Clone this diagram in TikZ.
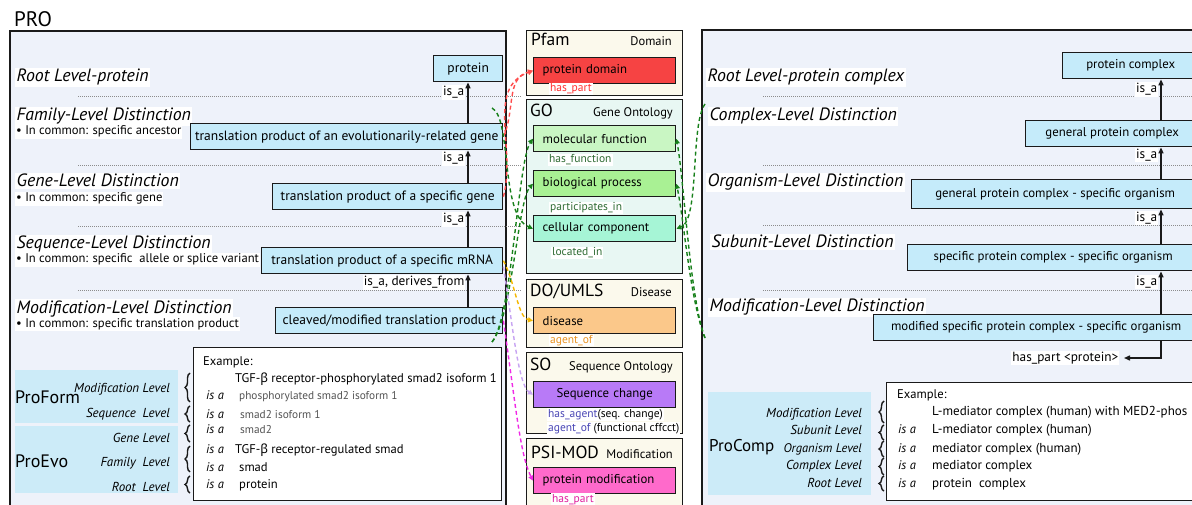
\documentclass[tikz,border=0pt]{standalone}
\usepackage{fontspec}
\setmainfont{PT Sans}
\newfontfamily\grk{Noto Sans}
\usetikzlibrary{arrows.meta,positioning,calc,decorations.pathreplacing}
\definecolor{Ink}{HTML}{1A1A1A}
\definecolor{PanelBg}{HTML}{EEF2FA}
\definecolor{TermBlue}{HTML}{C5EBFA}
\definecolor{Band}{HTML}{CCEBF8}
\definecolor{Cream}{HTML}{FBF9EC}
\definecolor{GoBg}{HTML}{E8F7F3}
\definecolor{PfamRed}{HTML}{F64343}
\definecolor{MolFun}{HTML}{C9F6C3}
\definecolor{BioProc}{HTML}{A9F194}
\definecolor{CellComp}{HTML}{A6F5D6}
\definecolor{DisOrange}{HTML}{FBC88A}
\definecolor{SeqPurple}{HTML}{B87AF7}
\definecolor{ModPink}{HTML}{FF6ACB}
\definecolor{LinkGreen}{HTML}{17801A}
\definecolor{LinkRed}{HTML}{FF4D4D}
\definecolor{LinkYellow}{HTML}{F5B800}
\definecolor{LinkLilac}{HTML}{C7A4F2}
\definecolor{LinkMagenta}{HTML}{F029E6}
\definecolor{RelGreen}{HTML}{2F6B33}
\definecolor{RelRed}{HTML}{FF3030}
\definecolor{RelOrange}{HTML}{EA9322}
\definecolor{RelBlue}{HTML}{4A47B5}
\definecolor{RelPink}{HTML}{E0209F}
\definecolor{SepGray}{HTML}{8C8C8C}
\newcommand{\fsz}[1]{\fontsize{#1}{#1}\selectfont}
\tikzset{
  panel/.style={draw=Ink,line width=1.4pt,fill=PanelBg},
  term/.style={draw=Ink,line width=1.4pt,fill=TermBlue,minimum height=26pt,inner sep=2pt,anchor=north west,font=\fsz{13.5}},
  cterm/.style={term,font=\fsz{12.8}},
  stage/.style={anchor=base west,fill=white,inner sep=1.5pt,font=\itshape\fsz{17.8}},
  common/.style={anchor=base west,fill=white,inner sep=1pt,font=\fsz{12.6}},
  rel/.style={fill=white,inner sep=1pt,font=\fsz{13.3}},
  isa/.style={-{Triangle[length=6pt,width=5pt]},line width=1.4pt,draw=Ink},
  divider/.style={draw=SepGray,densely dotted,line width=1pt},
  onto/.style={draw=Ink,line width=1.4pt,fill=Cream,anchor=north west,minimum width=156pt},
  ontotitle/.style={anchor=base west,inner sep=0pt,font=\fsz{17.5}},
  ontokind/.style={anchor=base east,inner sep=0pt,font=\fsz{12.5}},
  ontoterm/.style={draw=Ink,line width=1.4pt,anchor=north west,text width=124pt,inner xsep=9pt,inner ysep=0pt,minimum height=26pt,align=left,font=\fsz{12.8}},
  ontorel/.style={anchor=base west,fill=white,inner sep=1pt,font=\fsz{11.5}},
  link/.style={dash pattern=on 4pt off 3pt,line width=1.4pt,-{Triangle[length=5pt,width=5pt]}},
  band/.style={fill=Band},
  bandname/.style={anchor=base west,inner sep=0pt,font=\fsz{18}},
  bandlevel/.style={anchor=base east,inner sep=0pt,font=\itshape\fsz{13}},
  lvlbrace/.style={draw=Ink,line width=1.4pt,decorate,decoration={brace,amplitude=5pt}},
  example/.style={draw=Ink,line width=1.4pt,fill=white,anchor=north west},
  exrow/.style={anchor=base west,inner sep=0pt,font=\fsz{12.6}},
  exsmall/.style={anchor=base west,inner sep=0pt,font=\fsz{11.3},text=Ink!75},
  isatag/.style={anchor=base west,inner sep=0pt,font=\itshape\fsz{12.5}}
}

\begin{document}
\begin{tikzpicture}[x=1pt,y=-1pt]
  \useasboundingbox (0,0) rectangle (1192,505);
  \clip (0,0) rectangle (1192,505);
  \fill[white] (0,0) rectangle (1192,505);

  \node[anchor=base west,inner sep=0pt,font=\fsz{21}] (protitle) at (14,27) {PRO};
  \draw[panel] (10,31) rectangle (506,530);
  \foreach \y in {97,166,227,291} \draw[divider] (78,\y) -- (521,\y);
  \coordinate (lspine) at (468,0);

  \node[stage] (lroot) at (15,82) {Root Level-protein};
  \node[stage] (lfam) at (15,121) {Family-Level Distinction};
  \node[common] (cfam) at (15,135) {\textbullet\ In common: specific ancestor};
  \node[stage] (lgene) at (15,187) {Gene-Level Distinction};
  \node[common] (cgene) at (15,202) {\textbullet\ In common: specific gene};
  \node[stage] (lseq) at (15,249) {Sequence-Level Distinction};
  \node[common] (cseq) at (15,263) {\textbullet\ In common: specific\ \ allele or splice variant};
  \node[stage] (lmod) at (15,313) {Modification-Level Distinction};
  \node[common] (cmod) at (15,327) {\textbullet\ In common: specific translation product};

  \node[term,minimum width=69pt] (prot) at (433,55) {protein};
  \node[term,minimum width=312pt] (fam) at (190,123) {translation product of an evolutionarily-related gene};
  \node[term,minimum width=230pt] (gene) at (272,183) {translation product of a specific gene};
  \node[term,minimum width=241pt] (mrna) at (261,247) {translation product of a specific mRNA};
  \node[term,minimum width=227pt] (cleav) at (275,307) {cleaved/modified translation product};
  \draw[isa] (fam.north -| lspine) -- (prot.south -| lspine) node[rel,pos=0.75,anchor=east,xshift=-2pt] {is\_a};
  \draw[isa] (gene.north -| lspine) -- (fam.south -| lspine) node[rel,pos=0.75,anchor=east,xshift=-2pt] {is\_a};
  \draw[isa] (mrna.north -| lspine) -- (gene.south -| lspine) node[rel,pos=0.75,anchor=east,xshift=-2pt] {is\_a};
  \draw[isa] (cleav.north -| lspine) -- (mrna.south -| lspine) node[rel,pos=0.75,anchor=east,xshift=-2pt] {is\_a, derives\_from};

  \fill[band] (15,370) rectangle (178,423);
  \fill[band] (15,426) rectangle (178,493);
  \node[bandname] (proform) at (15,403) {ProForm};
  \node[bandname] (proevo) at (15,467) {ProEvo};
  \node[bandlevel] (bmod) at (170,392) {Modification Level};
  \node[bandlevel] (bseq) at (170,417) {Sequence\ \ Level};
  \node[bandlevel] (bgene) at (170,442) {Gene Level};
  \node[bandlevel] (bfam) at (170,466) {Family\ \ Level};
  \node[bandlevel] (broot) at (170,491) {Root\ \ Level};
  \draw[lvlbrace] (190,402) -- (190,373);
  \draw[lvlbrace] (190,422) -- (190,406);
  \draw[lvlbrace] (190,442) -- (190,425);
  \draw[lvlbrace] (190,472) -- (190,446);
  \draw[lvlbrace] (190,493) -- (190,476);

  \node[example,minimum width=308pt,minimum height=153pt] (exleft) at (193,347) {};
  \node[exrow] (exl0) at (203,365) {Example:};
  \node[exrow] (exl1) at (235,382) {TGF-{\grk β} receptor-phosphorylated smad2 isoform 1};
  \node[exsmall] (exl2) at (239,399) {phosphorylated smad2 isoform 1};
  \node[exsmall] (exl3) at (240,418) {smad2 isoform 1};
  \node[exsmall] (exl4) at (240,433) {smad2};
  \node[exrow] (exl5) at (235,453) {TGF-{\grk β} receptor-regulated smad};
  \node[exrow] (exl6) at (239,471) {smad};
  \node[exrow] (exl7) at (239,488) {protein};
  \foreach \y in {399,418,433,453,471,488} \node[isatag] at (206,\y) {is a};

  \node[onto,minimum height=65pt] (pfambox) at (526,30) {};
  \node[ontotitle] (pfamt) at (531,46) {Pfam};
  \node[ontokind] (pfamk) at (672,46) {Domain};
  \node[ontoterm,fill=PfamRed] (pdom) at (533,57) {protein domain};
  \node[ontorel,text=RelRed] (pdomr) at (549,92) {has\_part};

  \node[onto,fill=GoBg,minimum height=174pt] (gobox) at (526,99) {};
  \node[ontotitle] (got) at (530,117) {GO};
  \node[ontokind] (gok) at (673,117) {Gene Ontology};
  \node[ontoterm,fill=MolFun] (mf) at (533,125) {molecular function};
  \node[ontorel,text=RelGreen] (mfr) at (548,163) {has\_function};
  \node[ontoterm,fill=BioProc] (bp) at (533,170) {biological process};
  \node[ontorel,text=RelGreen] (bpr) at (549,211) {participates\_in};
  \node[ontoterm,fill=CellComp] (cc) at (533,215) {cellular component};
  \node[ontorel,text=RelGreen] (ccr) at (551,256) {located\_in};

  \node[onto,minimum height=68pt] (dobox) at (526,279) {};
  \node[ontotitle] (dot) at (530,297) {DO/UMLS};
  \node[ontokind] (dok) at (672,297) {Disease};
  \node[ontoterm,fill=DisOrange] (dis) at (533,307) {disease};
  \node[ontorel,text=RelOrange] (disr) at (549,343) {agent\_of};

  \node[onto,minimum height=81pt] (sobox) at (526,352) {};
  \node[ontotitle] (sot) at (530,370) {SO};
  \node[ontokind] (sok) at (673,370) {Sequence Ontology};
  \node[ontoterm,fill=SeqPurple,align=center] (seq) at (533,381) {Sequence change};
  \node[ontorel] (seqr1) at (547,417) {\textcolor{RelBlue}{has\_agent}(seq. change)};
  \node[ontorel] (seqr2) at (547,431) {\textcolor{RelBlue}{agent\_of} (functional cffcct)};

  \node[onto,minimum height=80pt] (psibox) at (526,438) {};
  \node[ontotitle] (psit) at (531,458) {PSI-MOD};
  \node[ontokind] (psik) at (673,458) {Modification};
  \node[ontoterm,fill=ModPink] (pmod) at (533,467) {protein modification};
  \node[ontorel,text=RelPink] (pmodr) at (551,502) {has\_part};

  \draw[panel] (702,30) rectangle (1215,530);
  \foreach \y in {97,166,226,291} \draw[divider] (763,\y) -- (1192,\y);
  \coordinate (rspine) at (1161,0);

  \node[stage] (rroot) at (706,82) {Root Level-protein complex};
  \node[stage] (rcpx) at (708,121) {Complex-Level Distinction};
  \node[stage] (rorg) at (706,187) {Organism-Level Distinction};
  \node[stage] (rsub) at (710,248) {Subunit-Level Distinction};
  \node[stage] (rmod) at (708,312) {Modification-Level Distinction};

  \node[cterm,minimum width=136pt] (pc) at (1062,52) {protein complex};
  \node[cterm,minimum width=173pt] (gpc) at (1025,120) {general protein complex};
  \node[cterm,minimum width=287pt,minimum height=29pt] (gpco) at (911,179) {general protein complex - specific organism};
  \node[cterm,minimum width=291pt] (spco) at (907,244) {specific protein complex - specific organism};
  \node[cterm,minimum width=325pt] (mspco) at (873,314) {modified specific protein complex - specific organism};
  \draw[isa] (gpc.north -| rspine) -- (pc.south -| rspine) node[rel,pos=0.75,anchor=east,xshift=-2pt] {is\_a};
  \draw[isa] (gpco.north -| rspine) -- (gpc.south -| rspine) node[rel,pos=0.75,anchor=east,xshift=-2pt] {is\_a};
  \draw[isa] (spco.north -| rspine) -- (gpco.south -| rspine) node[rel,pos=0.75,anchor=east,xshift=-2pt] {is\_a};
  \draw[isa] (mspco.north -| rspine) -- (spco.south -| rspine) node[rel,pos=0.75,anchor=east,xshift=-2pt] {is\_a};
  \coordinate (hpend) at (1124,358);
  \draw[isa] (mspco.south -| rspine) |- (hpend) node[rel,anchor=east,xshift=-4pt] {has\_part <protein>};

  \fill[band] (708,392) rectangle (871,495);
  \node[bandname,font=\fsz{17}] (procomp) at (709,451) {ProComp};
  \node[bandlevel] (qmod) at (862,417) {Modification Level};
  \node[bandlevel] (qsub) at (862,434) {Subunit Level};
  \node[bandlevel,font=\itshape\fsz{12.5}] (qorg) at (862,452) {Organism Level};
  \node[bandlevel] (qcpx) at (862,469) {Complex Level};
  \node[bandlevel] (qroot) at (862,487) {Root Level};
  \draw[lvlbrace] (884,423) -- (884,401);
  \draw[lvlbrace] (884,440) -- (884,425);
  \draw[lvlbrace] (884,457) -- (884,441);
  \draw[lvlbrace] (884,475) -- (884,458);
  \draw[lvlbrace] (884,491) -- (884,476);

  \node[example,minimum width=320pt,minimum height=118pt] (exright) at (886,382) {};
  \node[exrow] (exr0) at (897,398) {Example:};
  \node[exrow,font=\fsz{13}] (exr1) at (932,415) {L-mediator complex (human) with MED2-phos};
  \node[exrow,font=\fsz{13}] (exr2) at (932,433) {L-mediator complex (human)};
  \node[exrow,font=\fsz{13}] (exr3) at (932,452) {mediator complex (human)};
  \node[exrow,font=\fsz{13}] (exr4) at (932,469) {mediator complex};
  \node[exrow,font=\fsz{13}] (exr5) at (932,487) {protein\ \ complex};
  \foreach \y in {433,452,469,487} \node[isatag] at (898,\y) {is a};

  \draw[link,LinkRed] (fam.east) to[out=65,in=195] (pdom.west);
  \draw[link,LinkRed] (gene.east) to[out=75,in=200] (pdom.west);
  \coordinate (gfam) at (492,108);
  \coordinate (gmod) at (492,342);
  \draw[link,LinkGreen] (gfam) .. controls (512,118) and (500,215) .. (cc.west);
  \draw[link,LinkGreen] (gmod) .. controls (512,318) and (518,160) .. (mf.west);
  \draw[link,LinkGreen] (gmod) .. controls (512,318) and (518,200) .. (bp.west);
  \coordinate (gcpx) at (705,104);
  \coordinate (gmodr) at (705,338);
  \draw[link,LinkGreen] (gcpx) .. controls (690,125) and (700,220) .. (cc.east);
  \draw[link,LinkGreen] (gmodr) .. controls (690,300) and (684,180) .. (mf.east);
  \draw[link,LinkGreen] (gmodr) .. controls (690,300) and (684,220) .. (bp.east);
  \draw[link,LinkYellow] (mrna.east) .. controls (515,282) and (518,318) .. (dis.west);
  \draw[link,LinkLilac] ([yshift=-6pt]mrna.east) .. controls (512,320) and (518,385) .. (seq.west);
  \draw[link,LinkMagenta] (cleav.east) .. controls (515,400) and (520,455) .. (pmod.west);
\end{tikzpicture}
\end{document}
